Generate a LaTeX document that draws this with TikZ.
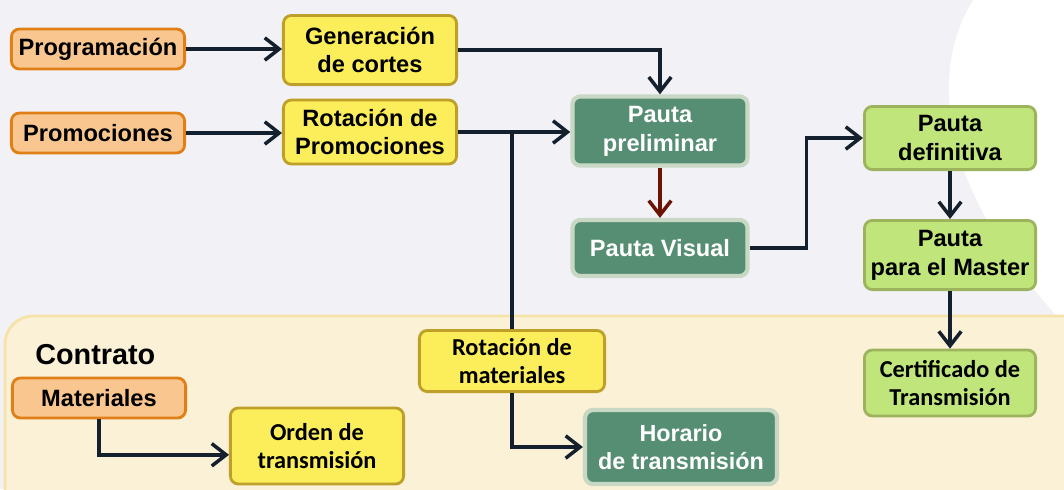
\documentclass[tikz,border=0pt]{standalone}
\usepackage{fontspec}
\setmainfont{Liberation Sans}
\newfontfamily\calib{Carlito}
\usepackage{tikz}
\usetikzlibrary{arrows.meta,calc}

\definecolor{fondo}{HTML}{F2F2F6}
\definecolor{panelf}{HTML}{FAF1D7}
\definecolor{panelb}{HTML}{F6E3A9}
\definecolor{naranjaf}{HTML}{F8C68E}
\definecolor{naranjab}{HTML}{E17F17}
\definecolor{amaf}{HTML}{FBEE5A}
\definecolor{amab}{HTML}{BD9F2A}
\definecolor{verdef}{HTML}{568E74}
\definecolor{verdeb}{HTML}{C8D8C4}
\definecolor{limaf}{HTML}{BFE57B}
\definecolor{limab}{HTML}{9DB35E}
\definecolor{flechac}{HTML}{15202F}
\definecolor{rojo}{HTML}{6B1406}

\newcommand{\tg}{\fontsize{16.8}{20.5}\selectfont\bfseries}
\newcommand{\tc}{\calib\fontsize{17.3}{20}\selectfont\bfseries}

\begin{document}
\begin{tikzpicture}[
    caja/.style={draw, line width=2pt, rounded corners=0.2cm, align=center, inner sep=2pt},
    naranja/.style={caja, fill=naranjaf, draw=naranjab, minimum width=4.33cm, minimum height=1cm, font=\tg},
    amarillo/.style={caja, fill=amaf, draw=amab, minimum width=4.33cm, font=\tg},
    verde/.style={caja, fill=verdef, draw=verdeb, line width=3pt, text=white, font=\tg},
    lima/.style={caja, fill=limaf, draw=limab, minimum width=4.28cm, font=\tg},
    flecha/.style={line width=2.5pt, color=flechac, -{Straight Barb[length=3.6mm,width=5.6mm]}},
    linea/.style={line width=2.5pt, color=flechac}
]
    \useasboundingbox (0,0) rectangle (26.6,-12.225);
    \fill[fondo] (0,0) rectangle (26.6,-12.225);
    \begin{scope}
        \clip (0,0) rectangle (26.6,-12.225);
        \fill[white] (24.4,0.1) .. controls (23.3,-1.5) and (23.2,-4.5) .. (26.7,-8.2) -- (26.7,0.1) -- cycle;
        % zona del contrato
        \draw[fill=panelf, draw=panelb, line width=2pt, rounded corners=0.7cm] (0.125,-7.9) rectangle (27.5,-13.5);
    \end{scope}

    \node[naranja] (prog) at (2.45,-1.225) {Programación};
    \node[naranja] (promo) at (2.45,-3.325) {Promociones};
    \node[amarillo, minimum height=1.73cm] (gen) at (9.25,-1.25) {Generación\\de cortes};
    \node[amarillo, minimum height=1.6cm] (rotp) at (9.25,-3.3) {Rotación de\\Promociones};
    \node[verde, minimum width=4.38cm, minimum height=1.73cm] (pprel) at (16.5,-3.275) {Pauta\\preliminar};
    \node[verde, minimum width=4.38cm, minimum height=1.4cm] (pvis) at (16.5,-6.2) {Pauta Visual};
    \node[lima, minimum height=1.58cm] (pdef) at (23.75,-3.45) {Pauta\\definitiva};
    \node[lima, minimum height=1.73cm] (pmas) at (23.75,-6.375) {Pauta\\para el Master};
    \node[lima, minimum height=1.65cm, font=\tc] (cert) at (23.75,-9.575) {Certificado de\\Transmisión};

    \node[anchor=west, inner sep=0pt, font=\fontsize{20.5}{24}\selectfont\bfseries] (contr) at (0.875,-8.875) {Contrato};
    \node[naranja] (mat) at (2.475,-9.95) {Materiales};
    \node[amarillo, minimum height=1.9cm, font=\tc] (orden) at (7.925,-11.15) {Orden de\\transmisión};
    \node[amarillo, minimum width=4.63cm, minimum height=1.53cm, font=\tc] (rotm) at (12.8,-9.025) {Rotación de\\materiales};
    \node[verde, minimum width=4.8cm, minimum height=1.85cm, font=\fontsize{16.6}{20}\selectfont\bfseries] (hor) at (17.025,-11.175) {Horario\\de transmisión};

    \draw[flecha] (prog.east) -- (prog.east -| gen.west);
    \draw[flecha] (promo.east) -- (promo.east -| rotp.west);
    \draw[flecha] (gen.east) -| (pprel.north);
    \draw[flecha] (rotp.east) -- (rotp.east -| pprel.west);
    \coordinate (j) at (rotm.north |- rotp.east);
    \draw[linea] (j) -- (rotm.north);
    \draw[flecha] (rotm.south) |- (hor.west);
    \draw[flecha, color=rojo] (pprel.south) -- (pvis.north);
    \coordinate (k) at ($(pvis.east)!.5!(pdef.west)$);
    \draw[flecha] (pvis.east) -- (k |- pvis.east) -- (k |- pdef.west) -- (pdef.west);
    \draw[flecha] (pdef.south) -- (pmas.north);
    \draw[flecha] (pmas.south) -- (cert.north);
    \draw[flecha] (mat.south) |- ([yshift=-0.22cm]orden.west);
\end{tikzpicture}
\end{document}
